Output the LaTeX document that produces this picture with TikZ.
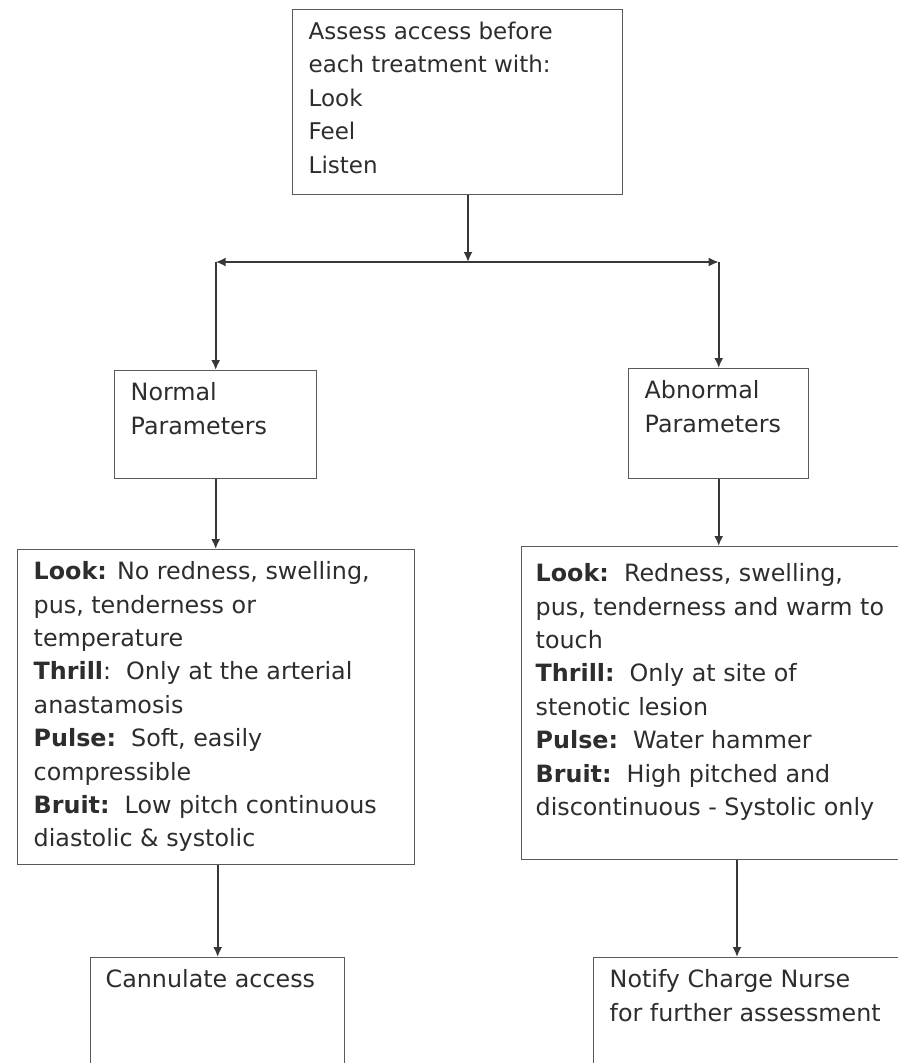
\documentclass[tikz,border=0pt]{standalone}
\usepackage{fontspec}
\setmainfont{DejaVu Sans}
\usetikzlibrary{arrows.meta}
\definecolor{linegrey}{RGB}{55, 55, 55}
\definecolor{boxgrey}{RGB}{90, 90, 90}
\definecolor{textgrey}{RGB}{45, 45, 45}
\newcommand{\boxtext}[3]{\parbox[t][#2][t]{#1}{\raggedright #3}}

\begin{document}
\begin{tikzpicture}[x=1pt, y=-1pt, >={Latex[length=10pt, width=9pt]},
    box/.style={draw=boxgrey, line width=1.4pt, anchor=north west, inner xsep=16pt, inner ysep=12pt,
      text=textgrey, font=\fontsize{23.8}{33.4}\selectfont},
    link/.style={->, draw=linegrey, line width=1.8pt}]
    \useasboundingbox (0, 0) rectangle (897, 1063);
    \node[box, font=\fontsize{23}{33.5}\selectfont] (assess) at (292, 9) {\boxtext{298pt}{161pt}{Assess access before\\each treatment with:\\Look\\Feel\\Listen}};
    \node[box] (normal) at (114, 370) {\boxtext{170pt}{84pt}{Normal\\Parameters}};
    \node[box] (abnormal) at (628, 368) {\boxtext{148pt}{86pt}{Abnormal\\Parameters}};
    \node[box] (lookN) at (17, 549) {\boxtext{365pt}{291pt}{\textbf{Look:} No redness, swelling,\\pus, tenderness or\\temperature\\
      \textbf{Thrill}:\ \ Only at the arterial\\anastamosis\\\textbf{Pulse:}\ \ Soft, easily\\compressible\\
      \textbf{Bruit:}\ \ Low pitch continuous\\diastolic \& systolic}};
    \node[box, inner xsep=14pt] (lookA) at (521, 546) {\boxtext{362pt}{289pt}{\vspace*{5pt}\textbf{Look:}\ \ Redness, swelling,\\pus, tenderness and warm to\\touch\\
      \textbf{Thrill:}\ \ Only at site of\\stenotic lesion\\\textbf{Pulse:}\ \ Water hammer\\
      \textbf{Bruit:}\ \ High pitched and\\discontinuous - Systolic only}};
    \node[box, inner xsep=15pt] (cannulate) at (90, 957) {\boxtext{224pt}{130pt}{Cannulate access}};
    \node[box] (notify) at (593, 957) {\boxtext{288pt}{130pt}{Notify Charge Nurse\\for further assessment}};
    \coordinate (fork) at (468, 262);
    \coordinate (forkL) at (normal.north |- fork);
    \coordinate (forkR) at (abnormal.north |- fork);
    \coordinate (notifyIn) at ([xshift=144pt]notify.north west);
    \draw[link] (fork |- assess.south) -- (fork);
    \draw[link, <->] (forkL) -- (forkR);
    \draw[link] (forkL) -- (normal.north);
    \draw[link] (forkR) -- (abnormal.north);
    \draw[link] (normal.south) -- (normal.south |- lookN.north);
    \draw[link] (abnormal.south) -- (abnormal.south |- lookA.north);
    \draw[link] (lookN.south -| cannulate.north) -- (cannulate.north);
    \draw[link] (notifyIn |- lookA.south) -- (notifyIn);
\end{tikzpicture}
\end{document}
